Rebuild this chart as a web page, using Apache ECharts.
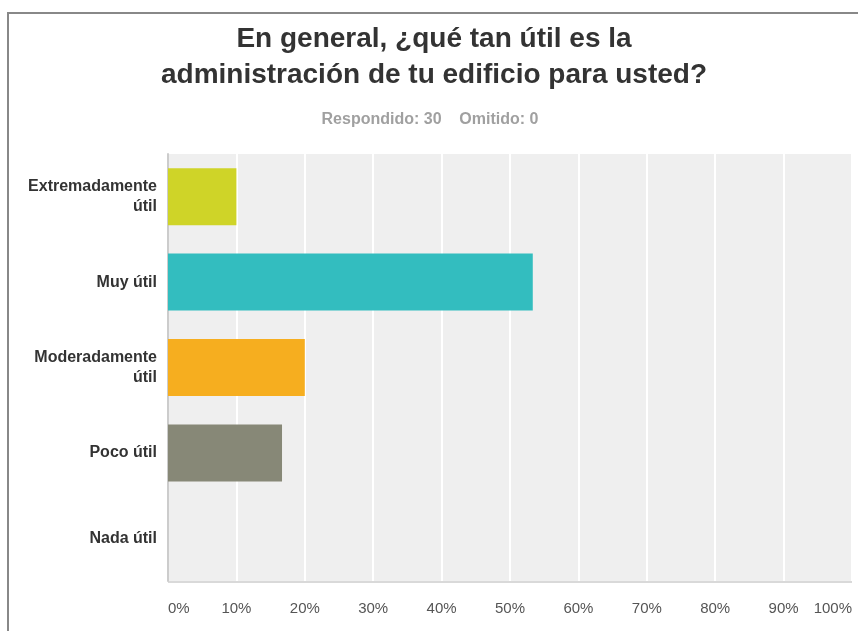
<!DOCTYPE html>
<html>
<head>
<meta charset="utf-8">
<script src="https://cdn.jsdelivr.net/npm/echarts@6/dist/echarts.min.js"></script>
<style>
  html, body { margin: 0; padding: 0; background: #fff; }
  #chart { width: 858px; height: 631px; }
</style>
</head>
<body>
<div id="chart"></div>
<script>
var categories = ['Extremadamente\nútil', 'Muy útil', 'Moderadamente\nútil', 'Poco útil', 'Nada útil']
var percentages = [10, 53.33, 20, 16.67, 0]
var barColors = ['#cfd428', '#33bdbf', '#f6ae1f', '#878877', '#999999']
var tickLabels = ['0%', '10%', '20%', '30%', '40%', '50%', '60%', '70%', '80%', '90%', '100%']

var chart = echarts.init(document.getElementById('chart'))

chart.setOption({
  backgroundColor: '#fff',
  animation: false,
  title: [
    {
      text: 'En general, ¿qué tan útil es la\nadministración de tu edificio para usted?',
      left: 429,
      textAlign: 'center',
      top: 16,
      textStyle: {
        fontFamily: 'Liberation Sans',
        fontSize: 28,
        fontWeight: 'bold',
        color: '#333',
        lineHeight: 36
      }
    },
    {
      text: 'Respondido: 30    Omitido: 0',
      left: 425,
      textAlign: 'center',
      top: 107,
      textStyle: {
        fontFamily: 'Liberation Sans',
        fontSize: 16,
        fontWeight: 'bold',
        color: '#a0a0a0'
      }
    }
  ],
  graphic: [
    // frame: top and left edges
    {
      type: 'polyline',
      shape: { points: [[8, 631], [8, 13], [858, 13]] },
      style: { stroke: '#888', lineWidth: 2, fill: null }
    },
    // light grey baseline under the plot
    {
      type: 'line',
      shape: { x1: 168, y1: 582, x2: 852, y2: 582 },
      style: { stroke: '#d9d9d9', lineWidth: 2 }
    }
  ],
  grid: {
    left: 168,
    right: 6,
    top: 154,
    bottom: 50,
    show: true,
    backgroundColor: '#efefef',
    borderWidth: 0
  },
  xAxis: {
    type: 'value',
    min: 0,
    max: 100,
    interval: 10,
    axisLine: { show: false },
    axisTick: { show: false },
    splitLine: { show: true, lineStyle: { color: '#ffffff', width: 2 } },
    axisLabel: {
      margin: 20,
      color: '#555',
      fontFamily: 'Liberation Sans',
      fontSize: 15,
      alignMinLabel: 'left',
      alignMaxLabel: 'right',
      formatter: function(v) {
        return tickLabels[Math.round(v / 10)]
      }
    }
  },
  yAxis: {
    type: 'category',
    inverse: true,
    data: categories,
    axisLine: { show: true, lineStyle: { color: '#cccccc', width: 2 } },
    axisTick: { show: false },
    splitLine: { show: false },
    axisLabel: {
      margin: 11,
      color: '#333',
      fontFamily: 'Liberation Sans',
      fontSize: 16,
      fontWeight: 'bold',
      lineHeight: 20,
      align: 'right'
    }
  },
  series: [
    {
      type: 'bar',
      barWidth: 57,
      data: percentages.map(function(v, i) {
        return { value: v, itemStyle: { color: barColors[i] } }
      })
    }
  ]
})
</script>
</body>
</html>
